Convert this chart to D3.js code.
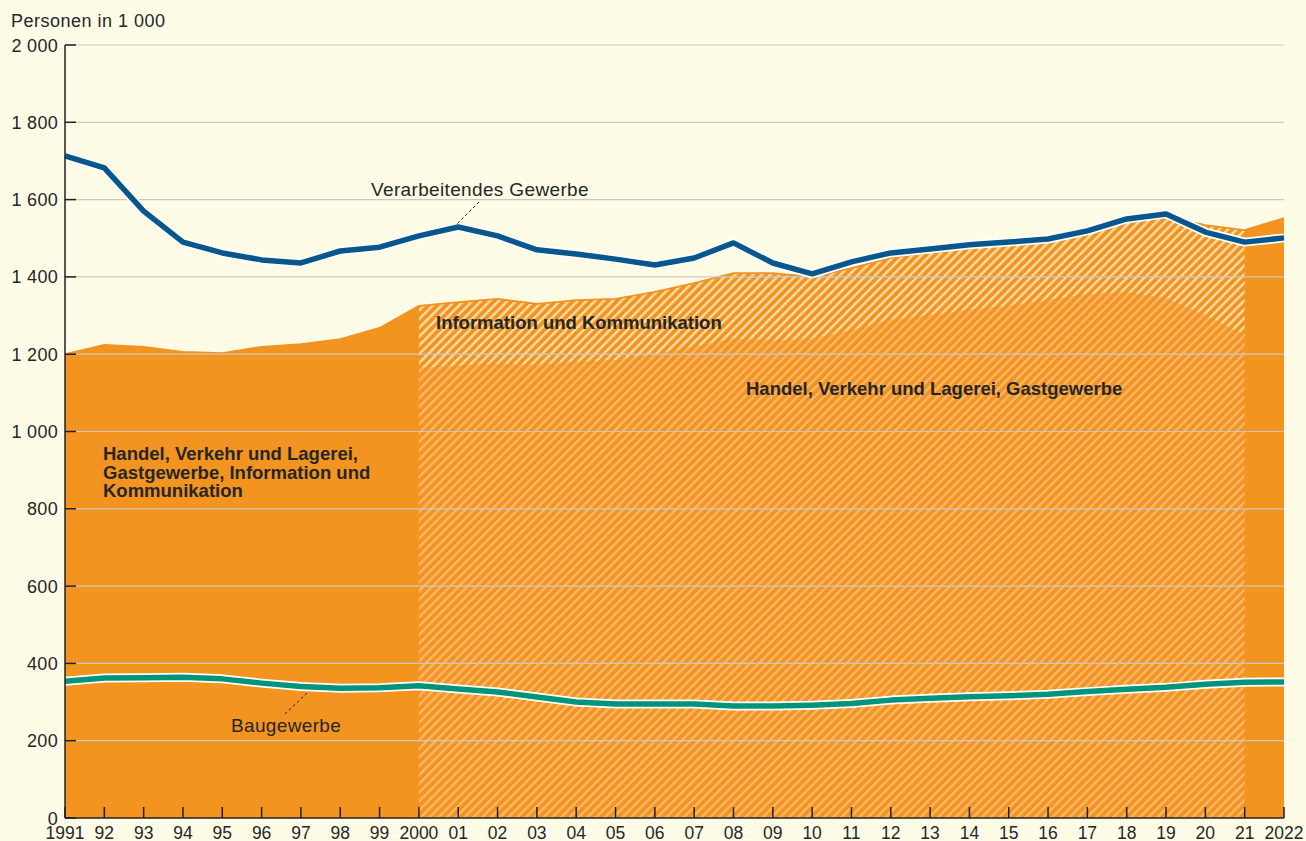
<!DOCTYPE html>
<html>
<head>
<meta charset="utf-8">
<script src="https://cdn.jsdelivr.net/npm/d3@7"></script>
<style>
  html, body { margin: 0; padding: 0; background: #FEFCE7; }
  svg { display: block; }
  text { font-family: "Liberation Sans", Arial, sans-serif; fill: #262626; }
</style>
</head>
<body>
<svg id="chart" width="1306" height="841"></svg>
<script>
// ---- data ----
const years = [1991,1992,1993,1994,1995,1996,1997,1998,1999,2000,2001,2002,2003,2004,2005,2006,2007,2008,2009,2010,2011,2012,2013,2014,2015,2016,2017,2018,2019,2020,2021,2022];
const xTickLabels = ["1991","92","93","94","95","96","97","98","99","2000","01","02","03","04","05","06","07","08","09","10","11","12","13","14","15","16","17","18","19","20","21","2022"];
// Handel, Verkehr und Lagerei, Gastgewerbe, Information und Kommunikation (total orange area)
const handelInfo = [1200,1224,1219,1206,1203,1219,1226,1239,1268,1325,1335,1343,1330,1340,1343,1361,1384,1410,1410,1400,1423,1449,1464,1475,1483,1496,1521,1545,1556,1534,1521,1552];
// Handel, Verkehr und Lagerei, Gastgewerbe only (hatched lower part, 2000–2021)
const handelYears = [2000,2001,2002,2003,2004,2005,2006,2007,2008,2009,2010,2011,2012,2013,2014,2015,2016,2017,2018,2019,2020,2021];
const handel = [1165,1170,1175,1172,1180,1185,1200,1220,1240,1235,1240,1262,1290,1300,1315,1325,1340,1355,1360,1345,1300,1250];
// Verarbeitendes Gewerbe
const verarbeitend = [1713,1682,1570,1490,1462,1444,1436,1467,1477,1506,1529,1506,1470,1459,1446,1431,1449,1488,1436,1408,1439,1462,1472,1483,1490,1498,1519,1550,1563,1516,1490,1501];
// Baugewerbe
const bau = [354,362,363,364,360,349,340,336,337,342,334,326,313,300,295,295,295,290,290,292,296,305,310,314,316,320,327,333,338,346,351,352];
const yTicks = [0,200,400,600,800,1000,1200,1400,1600,1800,2000];
const yTickLabels = ["0","200","400","600","800","1 000","1 200","1 400","1 600","1 800","2 000"];

// ---- setup ----
const svg = d3.select("#chart");
const orange = "#F39320";
const x = d3.scaleLinear().domain([1991, 2022]).range([65, 1284]);
const y = d3.scaleLinear().domain([0, 2000]).range([818, 45]);

const defs = svg.append("defs");
function stripes(id, stripeColor) {
  const p = defs.append("pattern").attr("id", id)
    .attr("patternUnits", "userSpaceOnUse")
    .attr("width", 6.2).attr("height", 6.2)
    .attr("patternTransform", "rotate(45)");
  p.append("rect").attr("width", 6.2).attr("height", 6.2).attr("fill", orange);
  p.append("rect").attr("x", 0).attr("width", 2.4).attr("height", 6.2).attr("fill", stripeColor);
}
stripes("hatchInfo", "#FCDDAA");
stripes("hatchHandel", "#F9B769");

const totalData = years.map((yr, i) => ({yr, v: handelInfo[i]}));
const hatchData = handelYears.map((yr, i) => ({yr, lo: handel[i], hi: handelInfo[years.indexOf(yr)]}));

// solid total area
svg.append("path")
  .attr("d", d3.area().x(d => x(d.yr)).y0(y(0)).y1(d => y(d.v))(totalData))
  .attr("fill", orange);

// hatched lower part (Handel ...)
svg.append("path")
  .attr("d", d3.area().x(d => x(d.yr)).y0(y(0)).y1(d => y(d.lo))(hatchData))
  .attr("fill", "url(#hatchHandel)");
// hatched upper part (Information und Kommunikation)
svg.append("path")
  .attr("d", d3.area().x(d => x(d.yr)).y0(d => y(d.lo)).y1(d => y(d.hi))(hatchData))
  .attr("fill", "url(#hatchInfo)");
// top edge of orange
svg.append("path")
  .attr("d", d3.line().x(d => x(d.yr)).y(d => y(d.v))(totalData))
  .attr("fill", "none").attr("stroke", orange).attr("stroke-width", 1.8);

// gridlines
svg.append("g").selectAll("line").data(yTicks.filter(t => t > 0)).join("line")
  .attr("x1", x(1991)).attr("x2", x(2022))
  .attr("y1", d => y(d)).attr("y2", d => y(d))
  .attr("stroke", "#C9C9C4").attr("stroke-width", 1.2);

// lines with white halo
function haloLine(values, color) {
  const gen = d3.line().x((d, i) => x(years[i])).y(d => y(d));
  svg.append("path").attr("d", gen(values)).attr("fill", "none")
    .attr("stroke", "#FFFFFF").attr("stroke-width", 9).attr("stroke-linejoin", "round");
  svg.append("path").attr("d", gen(values)).attr("fill", "none")
    .attr("stroke", color).attr("stroke-width", 5.5).attr("stroke-linejoin", "round");
}
haloLine(bau, "#00947A");
haloLine(verarbeitend, "#07578C");

// axes
const axisColor = "#231F20";
svg.append("line").attr("x1", x(1991)).attr("x2", x(1991)).attr("y1", y(2000)).attr("y2", y(0))
  .attr("stroke", axisColor).attr("stroke-width", 1.5);
svg.append("line").attr("x1", x(1991)).attr("x2", x(2022)).attr("y1", y(0)).attr("y2", y(0))
  .attr("stroke", axisColor).attr("stroke-width", 1.5);
svg.append("g").selectAll("line").data(yTicks).join("line")
  .attr("x1", x(1991)).attr("x2", x(1991) + 11)
  .attr("y1", d => y(d)).attr("y2", d => y(d))
  .attr("stroke", axisColor).attr("stroke-width", 1.5);
svg.append("g").selectAll("line").data(years).join("line")
  .attr("x1", d => x(d)).attr("x2", d => x(d))
  .attr("y1", y(0) - 11).attr("y2", y(0))
  .attr("stroke", axisColor).attr("stroke-width", 1.5);

svg.append("g").selectAll("text").data(yTicks).join("text")
  .attr("x", 58).attr("y", d => y(d) + 6.5)
  .attr("text-anchor", "end").style("font-size", "18px").style("letter-spacing", "0.3px")
  .text((d, i) => yTickLabels[i]);
svg.append("g").selectAll("text").data(years).join("text")
  .attr("x", d => x(d)).attr("y", 838.5)
  .attr("text-anchor", "middle").style("font-size", "17.5px")
  .text((d, i) => xTickLabels[i]);

svg.append("text").attr("x", 11).attr("y", 27).style("font-size", "18px").style("letter-spacing", "0.5px").text("Personen in 1 000");

// annotations
const regStyle = sel => sel.style("font-size", "19px").style("letter-spacing", "0.35px");
svg.append("text").attr("x", 371).attr("y", 196).call(regStyle).text("Verarbeitendes Gewerbe");
svg.append("line").attr("x1", 479).attr("y1", 202).attr("x2", 457).attr("y2", 224)
  .attr("stroke", "#231F20").attr("stroke-width", 1).attr("stroke-dasharray", "3,2.5");
svg.append("text").attr("x", 231).attr("y", 732).call(regStyle).text("Baugewerbe");
svg.append("line").attr("x1", 307).attr("y1", 693).attr("x2", 285).attr("y2", 714)
  .attr("stroke", "#231F20").attr("stroke-width", 1).attr("stroke-dasharray", "3,2.5");

const boldStyle = sel => sel.style("font-size", "18.5px").style("font-weight", "bold");
svg.append("text").attr("x", 436).attr("y", 329).call(boldStyle).text("Information und Kommunikation");
svg.append("text").attr("x", 746).attr("y", 395).call(boldStyle).text("Handel, Verkehr und Lagerei, Gastgewerbe");
const leftLines = ["Handel, Verkehr und Lagerei,", "Gastgewerbe, Information und", "Kommunikation"];
svg.append("g").selectAll("text").data(leftLines).join("text")
  .attr("x", 103).attr("y", (d, i) => 460 + i * 18.5).call(boldStyle).text(d => d);
</script>
</body>
</html>
